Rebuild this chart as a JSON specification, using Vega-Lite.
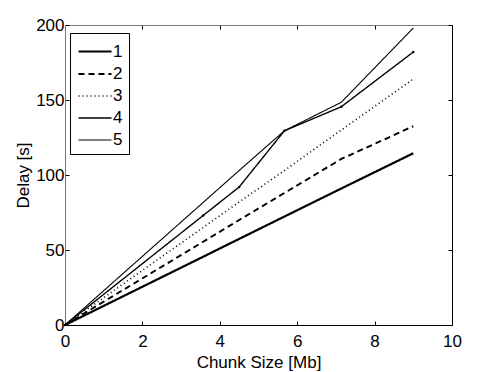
{
  "$schema": "https://vega.github.io/schema/vega-lite/v6.json",
  "autosize": {"type": "none"},
  "width": 387,
  "height": 300,
  "padding": {"left": 65, "top": 25, "right": 46, "bottom": 47},
  "background": "white",
  "config": {
    "view": {"stroke": null},
    "font": "Liberation Sans",
    "axis": {
      "labelFont": "Liberation Sans",
      "titleFont": "Liberation Sans",
      "labelFontSize": 17,
      "titleFontSize": 17,
      "titleFontWeight": "normal",
      "labelColor": "black",
      "titleColor": "black",
      "grid": false,
      "domainColor": "black",
      "tickColor": "black",
      "tickSize": -4
    },
    "legend": {
      "labelFont": "Liberation Sans",
      "labelFontSize": 17,
      "labelColor": "black"
    }
  },
  "data": {
    "values": [
      {"series": "1", "size": 0, "delay": 0},
      {"series": "1", "size": 3.57, "delay": 45.5},
      {"series": "1", "size": 4.5, "delay": 57.4},
      {"series": "1", "size": 5.67, "delay": 72.3},
      {"series": "1", "size": 7.14, "delay": 91},
      {"series": "1", "size": 9, "delay": 114.5},
      {"series": "2", "size": 0, "delay": 0},
      {"series": "2", "size": 3.57, "delay": 55.5},
      {"series": "2", "size": 4.5, "delay": 70},
      {"series": "2", "size": 5.67, "delay": 88},
      {"series": "2", "size": 7.14, "delay": 110.7},
      {"series": "2", "size": 9, "delay": 132.5},
      {"series": "3", "size": 0, "delay": 0},
      {"series": "3", "size": 3.57, "delay": 65},
      {"series": "3", "size": 4.5, "delay": 82},
      {"series": "3", "size": 5.67, "delay": 103},
      {"series": "3", "size": 7.14, "delay": 130},
      {"series": "3", "size": 9, "delay": 164},
      {"series": "4", "size": 0, "delay": 0},
      {"series": "4", "size": 3.57, "delay": 73},
      {"series": "4", "size": 4.5, "delay": 92},
      {"series": "4", "size": 5.67, "delay": 129.5},
      {"series": "4", "size": 7.14, "delay": 145.5},
      {"series": "4", "size": 9, "delay": 182},
      {"series": "5", "size": 0, "delay": 0},
      {"series": "5", "size": 3.57, "delay": 81.7},
      {"series": "5", "size": 4.5, "delay": 103},
      {"series": "5", "size": 5.67, "delay": 129.5},
      {"series": "5", "size": 7.14, "delay": 148.5},
      {"series": "5", "size": 9, "delay": 198}
    ]
  },
  "layer": [
    {
      "mark": {"type": "line", "color": "black", "strokeCap": "butt"},
      "encoding": {
        "x": {
          "field": "size", "type": "quantitative",
          "scale": {"domain": [0, 10], "nice": false, "zero": false},
          "axis": {"orient": "bottom", "values": [0, 2, 4, 6, 8, 10], "title": "Chunk Size [Mb]", "labelPadding": 12, "titlePadding": 5, "labelFlush": false, "labelOverlap": false}
        },
        "y": {
          "field": "delay", "type": "quantitative",
          "scale": {"domain": [0, 200], "nice": false, "zero": false},
          "axis": {"orient": "left", "values": [0, 50, 100, 150, 200], "title": "Delay [s]", "labelPadding": 5, "titlePadding": 3, "domainColor": "#777", "labelFlush": false, "labelOverlap": false}
        },
        "strokeDash": {
          "field": "series", "type": "ordinal",
          "scale": {"domain": ["1", "2", "3", "4", "5"], "range": [[1, 0], [6, 4], [1, 3], [1, 0], [1, 0]]},
          "legend": {
            "title": null,
            "orient": "none",
            "legendX": 5,
            "legendY": 8,
            "symbolType": "M-1.5,0H1.5",
            "symbolSize": 484,
            "symbolOffset": 6.5,
            "symbolStrokeColor": "black",
            "symbolFillColor": "transparent",
            "strokeColor": "black",
            "fillColor": "white",
            "padding": 6,
            "labelOffset": 5.5,
            "rowPadding": 2
          }
        },
        "strokeWidth": {
          "field": "series", "type": "ordinal",
          "scale": {"domain": ["1", "2", "3", "4", "5"], "range": [2.2, 1.1, 1.1, 1, 1]},
          "legend": {
            "title": null,
            "orient": "none",
            "legendX": 5,
            "legendY": 8,
            "symbolType": "M-1.5,0H1.5",
            "symbolSize": 484,
            "symbolOffset": 6.5,
            "symbolStrokeColor": "black",
            "symbolFillColor": "transparent",
            "strokeColor": "black",
            "fillColor": "white",
            "padding": 6,
            "labelOffset": 5.5,
            "rowPadding": 2
          }
        },
        "detail": {"field": "series"}
      }
    },
    {
      "transform": [{"filter": "datum.series == '4'"}],
      "mark": {"type": "point", "filled": true, "color": "black", "size": 6, "opacity": 1},
      "encoding": {
        "x": {
          "field": "size", "type": "quantitative",
          "axis": {"orient": "top", "values": [0, 2, 4, 6, 8, 10], "labels": false, "title": null, "domainColor": "#777"}
        },
        "y": {
          "field": "delay", "type": "quantitative",
          "axis": {"orient": "right", "values": [0, 50, 100, 150, 200], "labels": false, "title": null}
        }
      }
    }
  ],
  "resolve": {"axis": {"x": "independent", "y": "independent"}}
}
